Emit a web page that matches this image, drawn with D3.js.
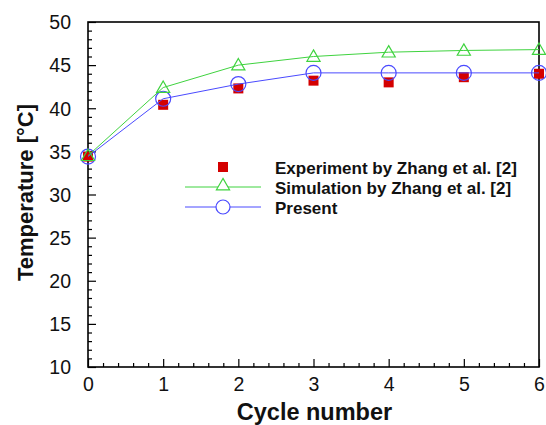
<!DOCTYPE html>
<html><head><meta charset="utf-8">
<script src="https://cdn.jsdelivr.net/npm/d3@7"></script>
<style>body{margin:0;background:#fff}</style>
</head><body>
<svg id="c" width="546" height="425"></svg>
<script>
const cycles = [0, 1, 2, 3, 4, 5, 6];
const experiment = [34.4, 40.4, 42.3, 43.2, 43.0, 43.6, 44.0];
const simulation = [34.5, 42.4, 45.0, 46.0, 46.5, 46.7, 46.8];
const present = [34.4, 41.1, 42.8, 44.1, 44.1, 44.1, 44.1];
const xTicks = [0, 1, 2, 3, 4, 5, 6];
const yTicks = [10, 15, 20, 25, 30, 35, 40, 45, 50];
const legendLabels = ["Experiment by Zhang et al. [2]", "Simulation by Zhang et al. [2]", "Present"];

const svg = d3.select("#c");
const L = 88, R = 539, T = 22, B = 367;
const x = d3.scaleLinear().domain([0, 6]).range([L, R]);
const y = d3.scaleLinear().domain([10, 50]).range([B, T]);
const font = "'Liberation Sans', Arial, sans-serif";

// minor ticks
const xMinor = d3.range(0, 6.001, 0.2).filter(v => Math.abs(v - Math.round(v)) > 1e-6);
const yMinor = d3.range(10, 50.001, 1).filter(v => v % 5 !== 0);

const gx = svg.append("g").attr("transform", `translate(0,${B})`)
  .call(d3.axisBottom(x).tickValues(xMinor).tickSize(-4).tickFormat(""));
const gx2 = svg.append("g").attr("transform", `translate(0,${B})`)
  .call(d3.axisBottom(x).tickValues(xTicks).tickSize(-8).tickPadding(10).tickFormat(d3.format("d")));
const gy = svg.append("g").attr("transform", `translate(${L},0)`)
  .call(d3.axisLeft(y).tickValues(yMinor).tickSize(-4).tickFormat(""));
const gy2 = svg.append("g").attr("transform", `translate(${L},0)`)
  .call(d3.axisLeft(y).tickValues(yTicks).tickSize(-8).tickPadding(17).tickFormat(d3.format("d")));
[gx, gx2, gy, gy2].forEach(g => {
  g.select(".domain").remove();
  g.selectAll(".tick line").attr("stroke", "#000").attr("stroke-width", 1.2);
  g.selectAll("text").attr("font-family", font).attr("font-size", 19.5).attr("fill", "#111");
});
gy2.selectAll("text").attr("dy", "0.35em");

// frame
svg.append("rect").attr("x", L).attr("y", T).attr("width", R - L).attr("height", B - T)
  .attr("fill", "none").attr("stroke", "#000").attr("stroke-width", 1.6);

const clip = svg.append("g");
const line = d3.line().x((d, i) => x(cycles[i])).y(d => y(d));

const red = "#d40000", green = "#3fd33f", blue = "#4a4aff";

// experiment squares
clip.selectAll("rect.exp").data(experiment).join("rect")
  .attr("x", (d, i) => x(cycles[i]) - 5).attr("y", d => y(d) - 5)
  .attr("width", 10).attr("height", 10).attr("fill", red);

// present
clip.append("path").datum(present).attr("d", line).attr("fill", "none").attr("stroke", blue).attr("stroke-width", 1);
clip.selectAll("circle.pr").data(present).join("circle")
  .attr("cx", (d, i) => x(cycles[i])).attr("cy", d => y(d)).attr("r", 7.5)
  .attr("fill", "none").attr("stroke", blue).attr("stroke-width", 1.2);

// simulation
const tri = d3.symbol().type(d3.symbolTriangle).size(75);
clip.append("path").datum(simulation).attr("d", line).attr("fill", "none").attr("stroke", green).attr("stroke-width", 1);
clip.selectAll("path.sim").data(simulation).join("path")
  .attr("transform", (d, i) => `translate(${x(cycles[i])},${y(d) + 1})`)
  .attr("d", tri).attr("fill", "none").attr("stroke", green).attr("stroke-width", 1.2);

// legend
const lgY = [167, 187, 207];
const lx0 = 185, lx1 = 261, lxm = 223, ltx = 275;
const lg = svg.append("g");
lg.append("rect").attr("x", lxm - 5).attr("y", lgY[0] - 5).attr("width", 10).attr("height", 10).attr("fill", red);
lg.append("line").attr("x1", lx0).attr("x2", lx1).attr("y1", lgY[1]).attr("y2", lgY[1]).attr("stroke", green);
lg.append("path").attr("transform", `translate(${lxm},${lgY[1] - 1})`).attr("d", tri)
  .attr("fill", "#fff").attr("stroke", green).attr("stroke-width", 1.2);
lg.append("line").attr("x1", lx0).attr("x2", lx1).attr("y1", lgY[2]).attr("y2", lgY[2]).attr("stroke", blue);
lg.append("circle").attr("cx", lxm).attr("cy", lgY[2]).attr("r", 7)
  .attr("fill", "#fff").attr("stroke", blue).attr("stroke-width", 1.2);
lg.selectAll("text").data(legendLabels).join("text")
  .attr("x", ltx).attr("y", (d, i) => lgY[i] + 1.5).attr("dy", "0.35em")
  .attr("font-family", font).attr("font-weight", "bold").attr("font-size", 17).attr("fill", "#111")
  .text(d => d);

// axis titles
svg.append("text").attr("x", (L + R) / 2 + 1).attr("y", 420).attr("text-anchor", "middle")
  .attr("font-family", font).attr("font-weight", "bold").attr("font-size", 23.5).attr("fill", "#111")
  .text("Cycle number");
svg.append("text").attr("transform", `translate(33,${(T + B) / 2 - 2}) rotate(-90)`).attr("text-anchor", "middle")
  .attr("font-family", font).attr("font-weight", "bold").attr("font-size", 22).attr("fill", "#111")
  .text("Temperature [°C]");
</script>
</body></html>
